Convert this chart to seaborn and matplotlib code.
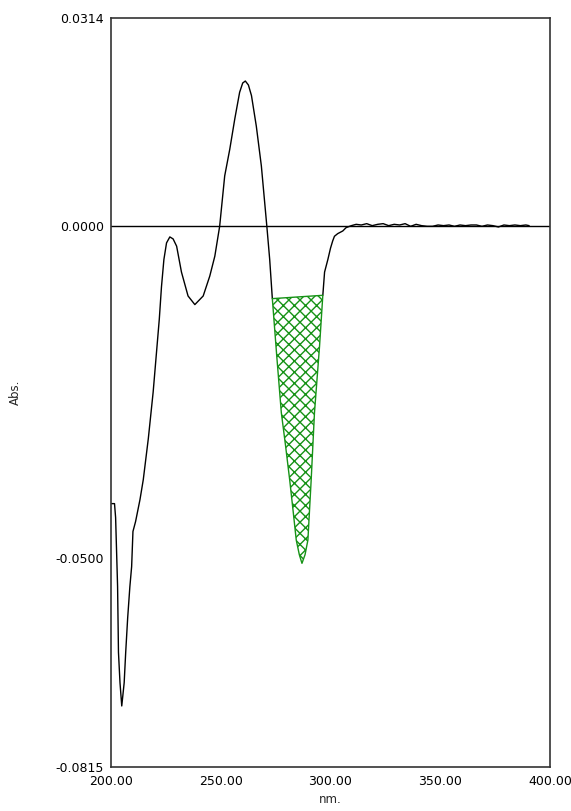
import numpy as np
import matplotlib
matplotlib.use("Agg")
import matplotlib.pyplot as plt
import seaborn as sns

# ── Spectrum (nm, Abs.) ──────────────────────────────────────
# part before the integrated dip
left_nm = [200.2, 201.6, 202.1, 203.0, 203.4, 204.1, 204.9, 206.0, 206.7,
           207.6, 208.6, 209.4, 210.0, 211.2, 213.2, 214.7, 217.0, 219.2,
           222.0, 223.0, 224.1, 225.3, 226.8, 228.3, 229.9, 232.1, 235.1,
           238.2, 242.0, 245.0, 247.3, 249.5, 251.8, 254.1, 256.4, 258.6,
           260.0, 261.2, 262.6, 264.0, 266.2, 268.5, 271.0, 272.3, 273.5]
left_abs = [-0.0418, -0.0418, -0.0439, -0.0543, -0.0642, -0.0688, -0.0723,
            -0.0688, -0.0642, -0.0590, -0.0543, -0.0513, -0.0460, -0.0445,
            -0.0412, -0.0382, -0.0320, -0.0250, -0.0140, -0.0091, -0.0050,
            -0.0025, -0.0016, -0.0019, -0.0030, -0.0069, -0.0105, -0.0118,
            -0.0105, -0.0075, -0.0045, 0.0000, 0.0076, 0.0116, 0.0162,
            0.0202, 0.0216, 0.0219, 0.0213, 0.0197, 0.0151, 0.0091, 0.0000,
            -0.0050, -0.0109]

# the hatched dip (peak area)
dip_nm = [273.5, 275.5, 277.6, 279.5, 281.4, 283.0, 284.4, 285.8, 287.0,
          288.4, 289.7, 291.2, 292.7, 295.0, 296.5]
dip_abs = [-0.0109, -0.0195, -0.0281, -0.0330, -0.0382, -0.0430, -0.0473,
           -0.0495, -0.0508, -0.0495, -0.0473, -0.0382, -0.0281, -0.0181,
           -0.0104]

# recovery and flat noisy tail
right_nm = [296.5, 297.3, 298.8, 300.0, 301.0, 301.8, 303.3, 305.6, 307.1,
            309.5, 311.7, 314.0, 316.5, 319.0, 321.5, 324.0, 326.5, 329.0,
            331.5, 334.0, 336.5, 339.0, 341.5, 344.0, 346.5, 349.0, 351.5,
            354.0, 356.5, 359.0, 361.5, 364.0, 366.5, 369.0, 371.5, 374.0,
            376.5, 379.0, 381.5, 384.0, 386.5, 389.0, 390.5]
right_abs = [-0.0104, -0.0069, -0.0050, -0.0033, -0.0022, -0.0015, -0.0011,
             -0.0007, -0.0002, 0.0001, 0.0003, 0.0002, 0.0004, 0.0001,
             0.0003, 0.0004, 0.0001, 0.0003, 0.0002, 0.0004, 0.0000, 0.0003,
             0.0001, 0.0000, 0.0000, 0.0002, 0.0001, 0.0002, 0.0000, 0.0002,
             0.0001, 0.0002, 0.0002, 0.0000, 0.0002, 0.0001, -0.0001, 0.0002,
             0.0001, 0.0002, 0.0001, 0.0002, 0.0001]

x_ticks = [200, 250, 300, 350, 400]
y_ticks = [-0.0815, -0.0500, 0.0000, 0.0314]

GREEN = "#169216"

sns.set_style("white")
plt.rcParams["font.family"] = ["DejaVu Sans"]
plt.rcParams["hatch.linewidth"] = 1.0

fig = plt.figure(figsize=(5.71, 8.11), dpi=100)
ax = fig.add_axes([111 / 571, 44 / 811, 439 / 571, 749 / 811])

ax.axhline(0, color="black", lw=1.0, zorder=1)

sns.lineplot(x=left_nm, y=left_abs, ax=ax, color="black", lw=1.0, sort=False)
sns.lineplot(x=right_nm, y=right_abs, ax=ax, color="black", lw=1.0, sort=False)

# straight baseline across the dip, hatched area in between
base = np.interp(dip_nm, [dip_nm[0], dip_nm[-1]], [dip_abs[0], dip_abs[-1]])
ax.fill_between(dip_nm, dip_abs, base, facecolor="none", edgecolor=GREEN,
                hatch="xxx", lw=1.0, zorder=2)

ax.set_xlim(200, 400)
ax.set_ylim(-0.0815, 0.0314)
ax.set_xticks(x_ticks)
ax.set_xticklabels([f"{v:.2f}" for v in x_ticks])
ax.set_yticks(y_ticks)
ax.set_yticklabels([f"{v:.4f}" for v in y_ticks])

ax.tick_params(axis="x", direction="in", length=6, width=1, pad=6,
               labelsize=9, colors="black")
ax.tick_params(axis="y", direction="inout", length=8, width=1, pad=1,
               labelsize=9, colors="black")

for s in ax.spines.values():
    s.set_color("#333333")
    s.set_linewidth(1.2)

ax.set_xlabel("nm.", fontsize=8.5)
ax.xaxis.set_label_coords(0.5, -0.035)
ax.set_ylabel("Abs.", fontsize=8.5)
ax.yaxis.set_label_coords(-0.203, 0.5)

fig.savefig("out.png", dpi=100)
